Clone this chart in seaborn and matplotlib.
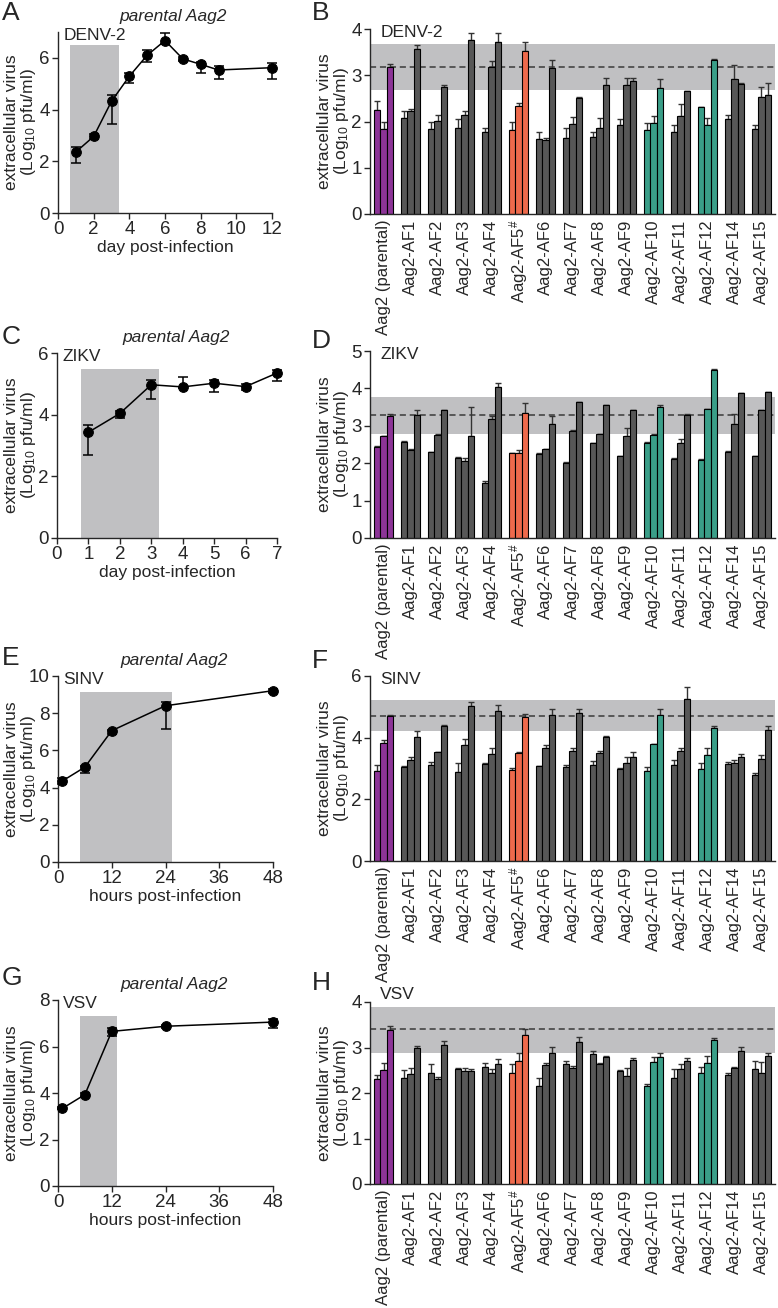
import matplotlib
matplotlib.use("Agg")
import matplotlib.pyplot as plt
import numpy as np
import pandas as pd
import seaborn as sns

sns.set_style("ticks")
plt.rcParams['font.family'] = ['Liberation Sans', 'DejaVu Sans']
plt.rcParams['mathtext.default'] = 'regular'

# ---------------- data ----------------
# time courses (mean, upper bar end, lower bar end)
denv_day = [1, 2, 3, 4, 5, 6, 7, 8, 9, 12]
denv_mean = [2.36, 2.96, 4.32, 5.29, 6.10, 6.67, 5.96, 5.75, 5.53, 5.62]
denv_hi = [2.54, 3.07, 4.57, 5.42, 6.30, 6.95, 6.03, 5.84, 5.67, 5.79]
denv_lo = [1.94, 2.85, 3.45, 5.04, 5.84, 6.55, 5.88, 5.40, 5.20, 5.17]

zikv_day = [1, 2, 3, 4, 5, 6, 7]
zikv_mean = [3.43, 4.04, 4.97, 4.90, 5.02, 4.91, 5.35]
zikv_hi = [3.65, 4.11, 5.14, 5.22, 5.14, 5.00, 5.44]
zikv_lo = [2.70, 3.90, 4.52, 4.86, 4.72, 4.79, 5.08]

sinv_hour = [1, 6, 12, 24, 48]
sinv_mean = [4.36, 5.10, 7.06, 8.40, 9.21]
sinv_hi = [4.52, 5.17, 7.09, 8.62, 9.30]
sinv_lo = [4.18, 4.81, 6.88, 7.16, 9.07]

vsv_hour = [1, 6, 12, 24, 48]
vsv_mean = [3.34, 3.93, 6.65, 6.87, 7.05]
vsv_hi = [3.38, 4.01, 6.78, 6.94, 7.20]
vsv_lo = [3.30, 3.84, 6.44, 6.78, 6.81]

cell_lines = ['Aag2 (parental)', 'Aag2-AF1', 'Aag2-AF2', 'Aag2-AF3', 'Aag2-AF4',
              'Aag2-AF5$^{\\#}$', 'Aag2-AF6', 'Aag2-AF7', 'Aag2-AF8', 'Aag2-AF9',
              'Aag2-AF10', 'Aag2-AF11', 'Aag2-AF12', 'Aag2-AF14', 'Aag2-AF15']
line_colors = ['#8c3497', '#575757', '#575757', '#575757', '#575757',
               '#ee6a4c', '#575757', '#575757', '#575757', '#575757',
               '#3a9e88', '#575757', '#3a9e88', '#575757', '#575757']

# clone screens: three replicates (values, upper error) per cell line
denv_bars = [[2.24, 1.84, 3.17], [2.08, 2.22, 3.57], [1.84, 2.02, 2.74], [1.86, 2.15, 3.76],
             [1.77, 3.17, 3.72], [1.81, 2.33, 3.52], [1.62, 1.60, 3.16], [1.65, 1.95, 2.50],
             [1.67, 1.87, 2.78], [1.92, 2.80, 2.87], [1.81, 1.97, 2.72], [1.77, 2.11, 2.65],
             [2.31, 1.92, 3.33], [2.05, 2.92, 2.81], [1.83, 2.54, 2.57]]
denv_err = [[0.20, 0.16, 0.07], [0.14, 0.04, 0.08], [0.15, 0.13, 0.05], [0.20, 0.08, 0.15],
            [0.08, 0.13, 0.20], [0.17, 0.08, 0.20], [0.15, 0.04, 0.16], [0.20, 0.14, 0.04],
            [0.10, 0.20, 0.15], [0.14, 0.15, 0.06], [0.15, 0.14, 0.20], [0.15, 0.26, 0.01],
            [0.00, 0.15, 0.03], [0.10, 0.31, 0.03], [0.10, 0.20, 0.26]]
denv_band = (2.68, 3.68, 3.17)

zikv_bars = [[2.44, 2.73, 3.27], [2.58, 2.35, 3.28], [2.30, 2.76, 3.42], [2.15, 2.06, 2.74],
             [1.48, 3.17, 4.04], [2.26, 2.28, 3.34], [2.25, 2.38, 3.05], [2.01, 2.87, 3.63],
             [2.53, 2.77, 3.55], [2.19, 2.73, 3.41], [2.55, 2.76, 3.50], [2.12, 2.55, 3.30],
             [2.09, 3.45, 4.50], [2.31, 3.06, 3.87], [2.19, 3.41, 3.90]]
zikv_err = [[0.01, 0.01, 0.04], [0.01, 0.03, 0.15], [0.01, 0.01, 0.01], [0.01, 0.08, 0.75],
            [0.05, 0.10, 0.10], [0.01, 0.07, 0.27], [0.01, 0.01, 0.20], [0.01, 0.01, 0.01],
            [0.01, 0.01, 0.01], [0.01, 0.20, 0.01], [0.01, 0.01, 0.05], [0.01, 0.10, 0.01],
            [0.01, 0.01, 0.01], [0.01, 0.25, 0.01], [0.01, 0.01, 0.01]]
zikv_band = (2.78, 3.77, 3.28)

sinv_bars = [[2.92, 3.84, 4.70], [3.04, 3.28, 4.01], [3.10, 3.54, 4.38], [2.88, 3.77, 5.02],
             [3.15, 3.46, 4.85], [2.95, 3.49, 4.66], [3.08, 3.68, 4.72], [3.05, 3.57, 4.79],
             [3.10, 3.49, 4.03], [2.99, 3.19, 3.38], [2.92, 3.78, 4.72], [3.11, 3.58, 5.24],
             [3.00, 3.45, 4.30], [3.14, 3.19, 3.37], [2.80, 3.32, 4.24]]
sinv_err = [[0.20, 0.10, 0.02], [0.05, 0.10, 0.20], [0.12, 0.01, 0.03], [0.30, 0.20, 0.15],
            [0.02, 0.20, 0.20], [0.08, 0.05, 0.10], [0.01, 0.08, 0.20], [0.07, 0.08, 0.15],
            [0.15, 0.08, 0.02], [0.04, 0.18, 0.17], [0.12, 0.01, 0.20], [0.17, 0.10, 0.40],
            [0.17, 0.20, 0.07], [0.07, 0.08, 0.10], [0.06, 0.13, 0.15]]
sinv_band = (4.23, 5.22, 4.70)

vsv_bars = [[2.31, 2.51, 3.39], [2.33, 2.41, 2.99], [2.44, 2.31, 3.05], [2.52, 2.49, 2.48],
            [2.58, 2.44, 2.63], [2.44, 2.70, 3.28], [2.16, 2.62, 2.89], [2.63, 2.54, 3.11],
            [2.86, 2.63, 2.79], [2.49, 2.38, 2.72], [2.15, 2.68, 2.80], [2.32, 2.52, 2.71],
            [2.45, 2.66, 3.16], [2.39, 2.55, 2.92], [2.53, 2.44, 2.82]]
vsv_err = [[0.08, 0.15, 0.08], [0.18, 0.13, 0.04], [0.20, 0.05, 0.10], [0.03, 0.07, 0.05],
           [0.08, 0.08, 0.12], [0.20, 0.18, 0.13], [0.17, 0.03, 0.12], [0.08, 0.05, 0.12],
           [0.06, 0.03, 0.02], [0.01, 0.18, 0.05], [0.05, 0.12, 0.07], [0.20, 0.12, 0.05],
           [0.12, 0.15, 0.05], [0.06, 0.03, 0.10], [0.18, 0.25, 0.07]]
vsv_band = (2.89, 3.89, 3.40)

# ---------------- layout ----------------
W, H = 778, 1308
fig = plt.figure(figsize=(W / 100, H / 100), dpi=100)


def add_ax(left, right, top, bottom):
    ax = fig.add_axes([left / W, 1 - bottom / H, (right - left) / W, (bottom - top) / H])
    ax._px = (left, right)
    return ax


YLAB = 'extracellular virus\n(Log$_{10}$ pfu/ml)'


def place_ylabel(ax, right_px):
    left, right = ax._px
    ax.set_ylabel(YLAB, fontsize=12.5, linespacing=1.0)
    ax.yaxis.set_label_coords((right_px - left) / (right - left), 0.5)


def time_panel(ax, x, mean, hi, lo, virus, shade, xlim, xticks, ylim, yticks, xlabel):
    ax.axvspan(shade[0], shade[1], ymax=shade[2] / ylim, color='#c0c0c2', lw=0, zorder=0)
    sns.lineplot(x=x, y=mean, ax=ax, color='black', lw=1.1, marker='o', markersize=7,
                 markeredgecolor='black', zorder=3, clip_on=False)
    yerr = [np.array(mean) - np.array(lo), np.array(hi) - np.array(mean)]
    ax.errorbar(x, mean, yerr=yerr, fmt='none', ecolor='black', elinewidth=1.1,
                capsize=3.8, capthick=1.1, zorder=2, clip_on=False)
    ax.set_xlim(*xlim)
    ax.set_ylim(0, ylim)
    ax.set_xticks(xticks)
    ax.set_yticks(yticks)
    ax.set_xlabel(xlabel, fontsize=12.5, labelpad=1)
    place_ylabel(ax, 38)
    ax.tick_params(labelsize=13.5, width=1, length=4, pad=2)
    ax.set_title('parental Aag2', fontsize=12.5, style='italic', pad=8, x=0.54)
    ax.text(0.025, 1.02, virus, transform=ax.transAxes, fontsize=12.5, va='top', ha='left')
    sns.despine(ax=ax)
    for s in ['left', 'bottom']:
        ax.spines[s].set_linewidth(1)


def bar_panel(ax, values, errs, band, virus, ylim, yticks, label_y=1.02):
    df = pd.DataFrame({
        'line': np.repeat(cell_lines, 3),
        'rep': np.tile(['r1', 'r2', 'r3'], len(cell_lines)),
        'value': np.array(values).ravel(),
    })
    ax.axhspan(band[0], band[1], color='#c0c0c2', lw=0, zorder=0)
    ax.axhline(band[2], ls=(0, (4, 2.5)), color='#3a3a3a', lw=1.1, zorder=0.5)
    sns.barplot(data=df, x='line', y='value', hue='rep', order=cell_lines,
                palette=['#575757'] * 3, width=0.67, errorbar=None, legend=False,
                edgecolor='black', linewidth=0.8, ax=ax, zorder=2)
    errs = np.array(errs)
    bar_conts = list(ax.containers)
    for h, cont in enumerate(bar_conts):
        xs, tops = [], []
        for i, bar in enumerate(cont.patches):
            bar.set_facecolor(line_colors[i])
            xs.append(bar.get_x() + bar.get_width() / 2)
            tops.append(bar.get_height())
        ax.errorbar(xs, tops, yerr=[np.zeros(len(xs)), errs[:, h]], fmt='none',
                    ecolor='#333333', elinewidth=1, capsize=2.2, capthick=1, zorder=1.5)
    ax.set_xlim(-0.5, len(cell_lines) - 0.5)
    ax.set_ylim(0, ylim)
    ax.set_yticks(yticks)
    ax.set_xlabel('')
    place_ylabel(ax, 351)
    ax.tick_params(axis='y', labelsize=13.5, width=1, length=4, pad=2)
    ax.tick_params(axis='x', labelsize=12, length=0, pad=4, rotation=90)
    ax.text(0.025, label_y, virus, transform=ax.transAxes, fontsize=12.5, va='top', ha='left')
    sns.despine(ax=ax)
    for s in ['left', 'bottom']:
        ax.spines[s].set_linewidth(1)


axA = add_ax(58, 272, 32, 213)
time_panel(axA, denv_day, denv_mean, denv_hi, denv_lo, 'DENV-2', (0.66, 3.41, 6.48),
           (0, 12), [0, 2, 4, 6, 8, 10, 12], 7, [0, 2, 4, 6], 'day post-infection')
axC = add_ax(57, 277, 353, 538)
time_panel(axC, zikv_day, zikv_mean, zikv_hi, zikv_lo, 'ZIKV', (0.77, 3.23, 5.49),
           (0, 7), [0, 1, 2, 3, 4, 5, 6, 7], 6, [0, 2, 4, 6], 'day post-infection')
axE = add_ax(58, 273, 676, 862)
time_panel(axE, sinv_hour, sinv_mean, sinv_hi, sinv_lo, 'SINV', (4.85, 25.4, 9.12),
           (0, 48), [0, 12, 24, 36, 48], 10, [0, 2, 4, 6, 8, 10], 'hours post-infection')
axG = add_ax(58, 273, 1000, 1186)
time_panel(axG, vsv_hour, vsv_mean, vsv_hi, vsv_lo, 'VSV', (4.85, 13.2, 7.31),
           (0, 48), [0, 12, 24, 36, 48], 8, [0, 2, 4, 6, 8], 'hours post-infection')

axB = add_ax(370, 775, 29, 214)
bar_panel(axB, denv_bars, denv_err, denv_band, 'DENV-2', 4, [0, 1, 2, 3, 4])
axD = add_ax(370, 775, 351, 538)
bar_panel(axD, zikv_bars, zikv_err, zikv_band, 'ZIKV', 5, [0, 1, 2, 3, 4, 5])
axF = add_ax(370, 775, 676, 861)
bar_panel(axF, sinv_bars, sinv_err, sinv_band, 'SINV', 6, [0, 2, 4, 6])
axH = add_ax(370, 775, 1002, 1184)
bar_panel(axH, vsv_bars, vsv_err, vsv_band, 'VSV', 4, [0, 1, 2, 3, 4], label_y=1.08)

for letter, px, py in [('A', 2, 1), ('B', 312, 1), ('C', 2, 325), ('D', 312, 329),
                       ('E', 2, 646), ('F', 312, 649), ('G', 2, 966), ('H', 312, 971)]:
    fig.text(px / W, 1 - py / H, letter, fontsize=19, va='top', ha='left')

fig.savefig('out.png', dpi=100)
